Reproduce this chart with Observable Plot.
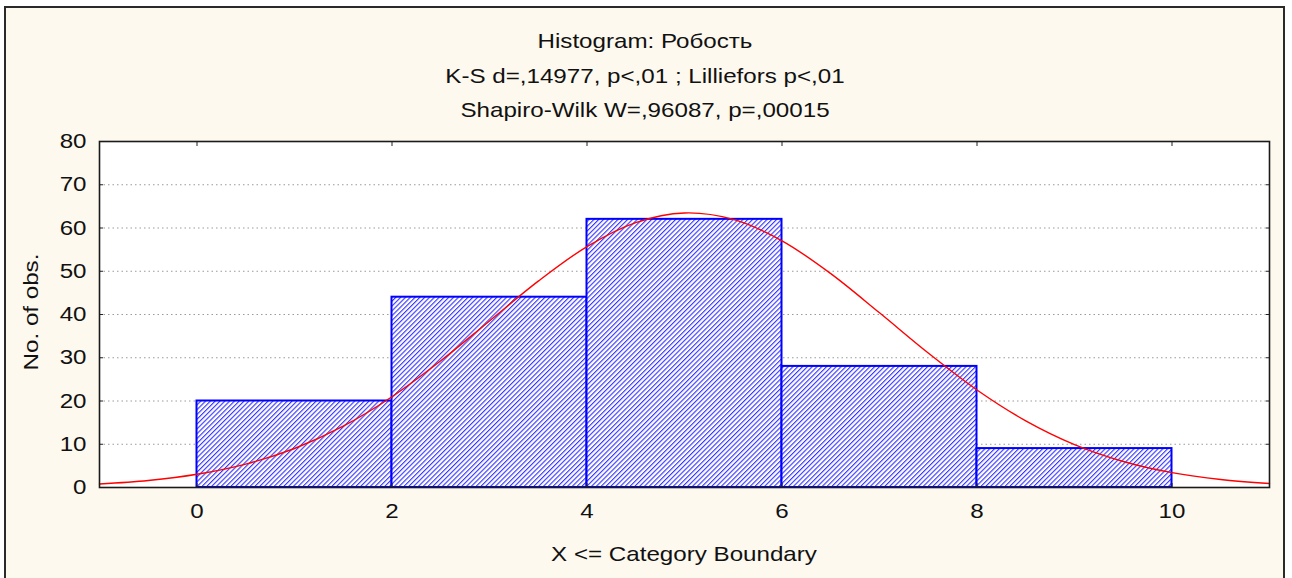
<!DOCTYPE html>
<html>
<head>
<meta charset="utf-8">
<script src="https://cdn.jsdelivr.net/npm/d3@7"></script>
<script src="https://cdn.jsdelivr.net/npm/@observablehq/plot@0.6"></script>
<style>
  html, body { margin: 0; padding: 0; background: #ffffff; }
  #wrap { position: relative; width: 1292px; height: 578px; overflow: hidden; font-family: "Liberation Sans", Arial, sans-serif; color: #111; }
  #panel { position: absolute; left: 4px; top: 6px; width: 1281px; height: 640px; box-sizing: border-box; border: 2px solid #2a2a2a; background: #fef9ef; }
  #chart { position: absolute; left: 0; top: 0; }
  .title { position: absolute; left: 345px; width: 600px; text-align: center; font-size: 21px; white-space: nowrap; line-height: 1; transform: scaleX(1.15); }
  #xlabel { position: absolute; left: 384px; width: 600px; top: 543px; text-align: center; font-size: 21px; white-space: nowrap; line-height: 1; transform: scaleX(1.15); }
  #ylabel { position: absolute; left: 30px; top: 312px; font-size: 21px; white-space: nowrap; line-height: 1; transform: translate(-50%, -50%) rotate(-90deg) scaleX(1.15); }
</style>
</head>
<body>
<div id="wrap">
  <div id="panel"></div>
  <div id="chart"></div>
  <div class="title" style="top:30px">Histogram: Робость</div>
  <div class="title" style="top:65px">K-S d=,14977, p&lt;,01 ; Lilliefors p&lt;,01</div>
  <div class="title" style="top:99px">Shapiro-Wilk W=,96087, p=,00015</div>
  <div id="xlabel">X &lt;= Category Boundary</div>
  <div id="ylabel">No. of obs.</div>
</div>
<script>
// Histogram bins (category boundaries) and counts
const binStarts = [0, 2, 4, 6, 8];
const binEnds = [2, 4, 6, 8, 10];
const counts = [20, 44, 62, 28, 9];

// Fitted normal curve
const curveX = [-1, -0.5, 0, 0.5, 1, 1.5, 2, 2.5, 3, 3.5, 4, 4.5, 5, 5.5, 6, 6.5, 7, 7.5, 8, 8.5, 9, 9.5, 10, 10.5, 11];
const curveY = [0.82, 1.63, 3.06, 5.41, 9.02, 14.18, 20.99, 29.29, 38.51, 47.71, 55.7, 61.25, 63.48, 61.99, 57.04, 49.45, 40.39, 31.09, 22.55, 15.41, 9.92, 6.02, 3.44, 1.85, 0.94];

const xTicks = [0, 2, 4, 6, 8, 10];
const yTicks = [0, 10, 20, 30, 40, 50, 60, 70, 80];
const gridTicks = [10, 20, 30, 40, 50, 60, 70];

const bins = binStarts.map((x0, i) => ({x0, x1: binEnds[i], count: counts[i]}));
const curve = curveX.map((x, i) => ({x, y: curveY[i]}));

const plot = Plot.plot({
  width: 1292,
  height: 578,
  marginTop: 141,
  marginBottom: 91,
  marginLeft: 99,
  marginRight: 23,
  style: {background: "transparent", fontFamily: "Liberation Sans, Arial, sans-serif", fontSize: "21px", color: "#111"},
  x: {domain: [-1, 11]},
  y: {domain: [0, 80]},
  marks: [
    Plot.frame({fill: "white", stroke: "none"}),
    Plot.gridY(gridTicks, {stroke: "#9a9a9a", strokeOpacity: 1, strokeDasharray: "1.5,3", strokeWidth: 1}),
    Plot.rectY(bins, {x1: "x0", x2: "x1", y: "count", fill: "url(#hatch)", stroke: "#0000ff", strokeWidth: 2}),
    Plot.line(curve, {x: "x", y: "y", stroke: "#ff0000", strokeWidth: 1.4, curve: "catmull-rom"}),
    Plot.axisX(xTicks, {anchor: "bottom", tickSize: 0, tickPadding: 16, label: null, fontSize: 21}),
    Plot.axisY(yTicks, {anchor: "left", tickSize: 0, tickPadding: 13, label: null, fontSize: 21}),
    Plot.axisX(xTicks, {anchor: "top", tickSize: -4, tickFormat: () => "", label: null, stroke: "#222"}),
    Plot.axisX(xTicks, {anchor: "bottom", tickSize: -4, tickFormat: () => "", label: null, stroke: "#222"}),
    Plot.axisY(yTicks, {anchor: "right", tickSize: -4, tickFormat: () => "", label: null, stroke: "#222"}),
    Plot.axisY(yTicks, {anchor: "left", tickSize: -4, tickFormat: () => "", label: null, stroke: "#222"}),
    Plot.frame({stroke: "#1a1a1a", strokeWidth: 1.6})
  ]
});

const ns = "http://www.w3.org/2000/svg";
const defs = document.createElementNS(ns, "defs");
defs.innerHTML = '<pattern id="hatch" patternUnits="userSpaceOnUse" width="3.4" height="3.4" patternTransform="rotate(45)">' +
  '<rect x="0" y="0" width="3.4" height="3.4" fill="#ffffff"></rect>' +
  '<line x1="0.6" y1="0" x2="0.6" y2="3.4" stroke="#1a1aff" stroke-width="1"></line></pattern>';
plot.insertBefore(defs, plot.firstChild);

// widen tick labels slightly to match the reference's rendering (horizontal scale only)
plot.querySelectorAll('g[aria-label$="tick label"] text').forEach(t => {
  if (!t.textContent) return;
  t.style.fontSize = "21px";
  let tr = t.getAttribute("transform") || "";
  const x = t.getAttribute("x");
  if (x != null && isFinite(+x) && +x !== 0) {
    tr += ` translate(${+x},0)`;
    t.removeAttribute("x");
  }
  t.setAttribute("transform", tr + " scale(1.15,1)");
});

document.getElementById("chart").appendChild(plot);
</script>
</body>
</html>
